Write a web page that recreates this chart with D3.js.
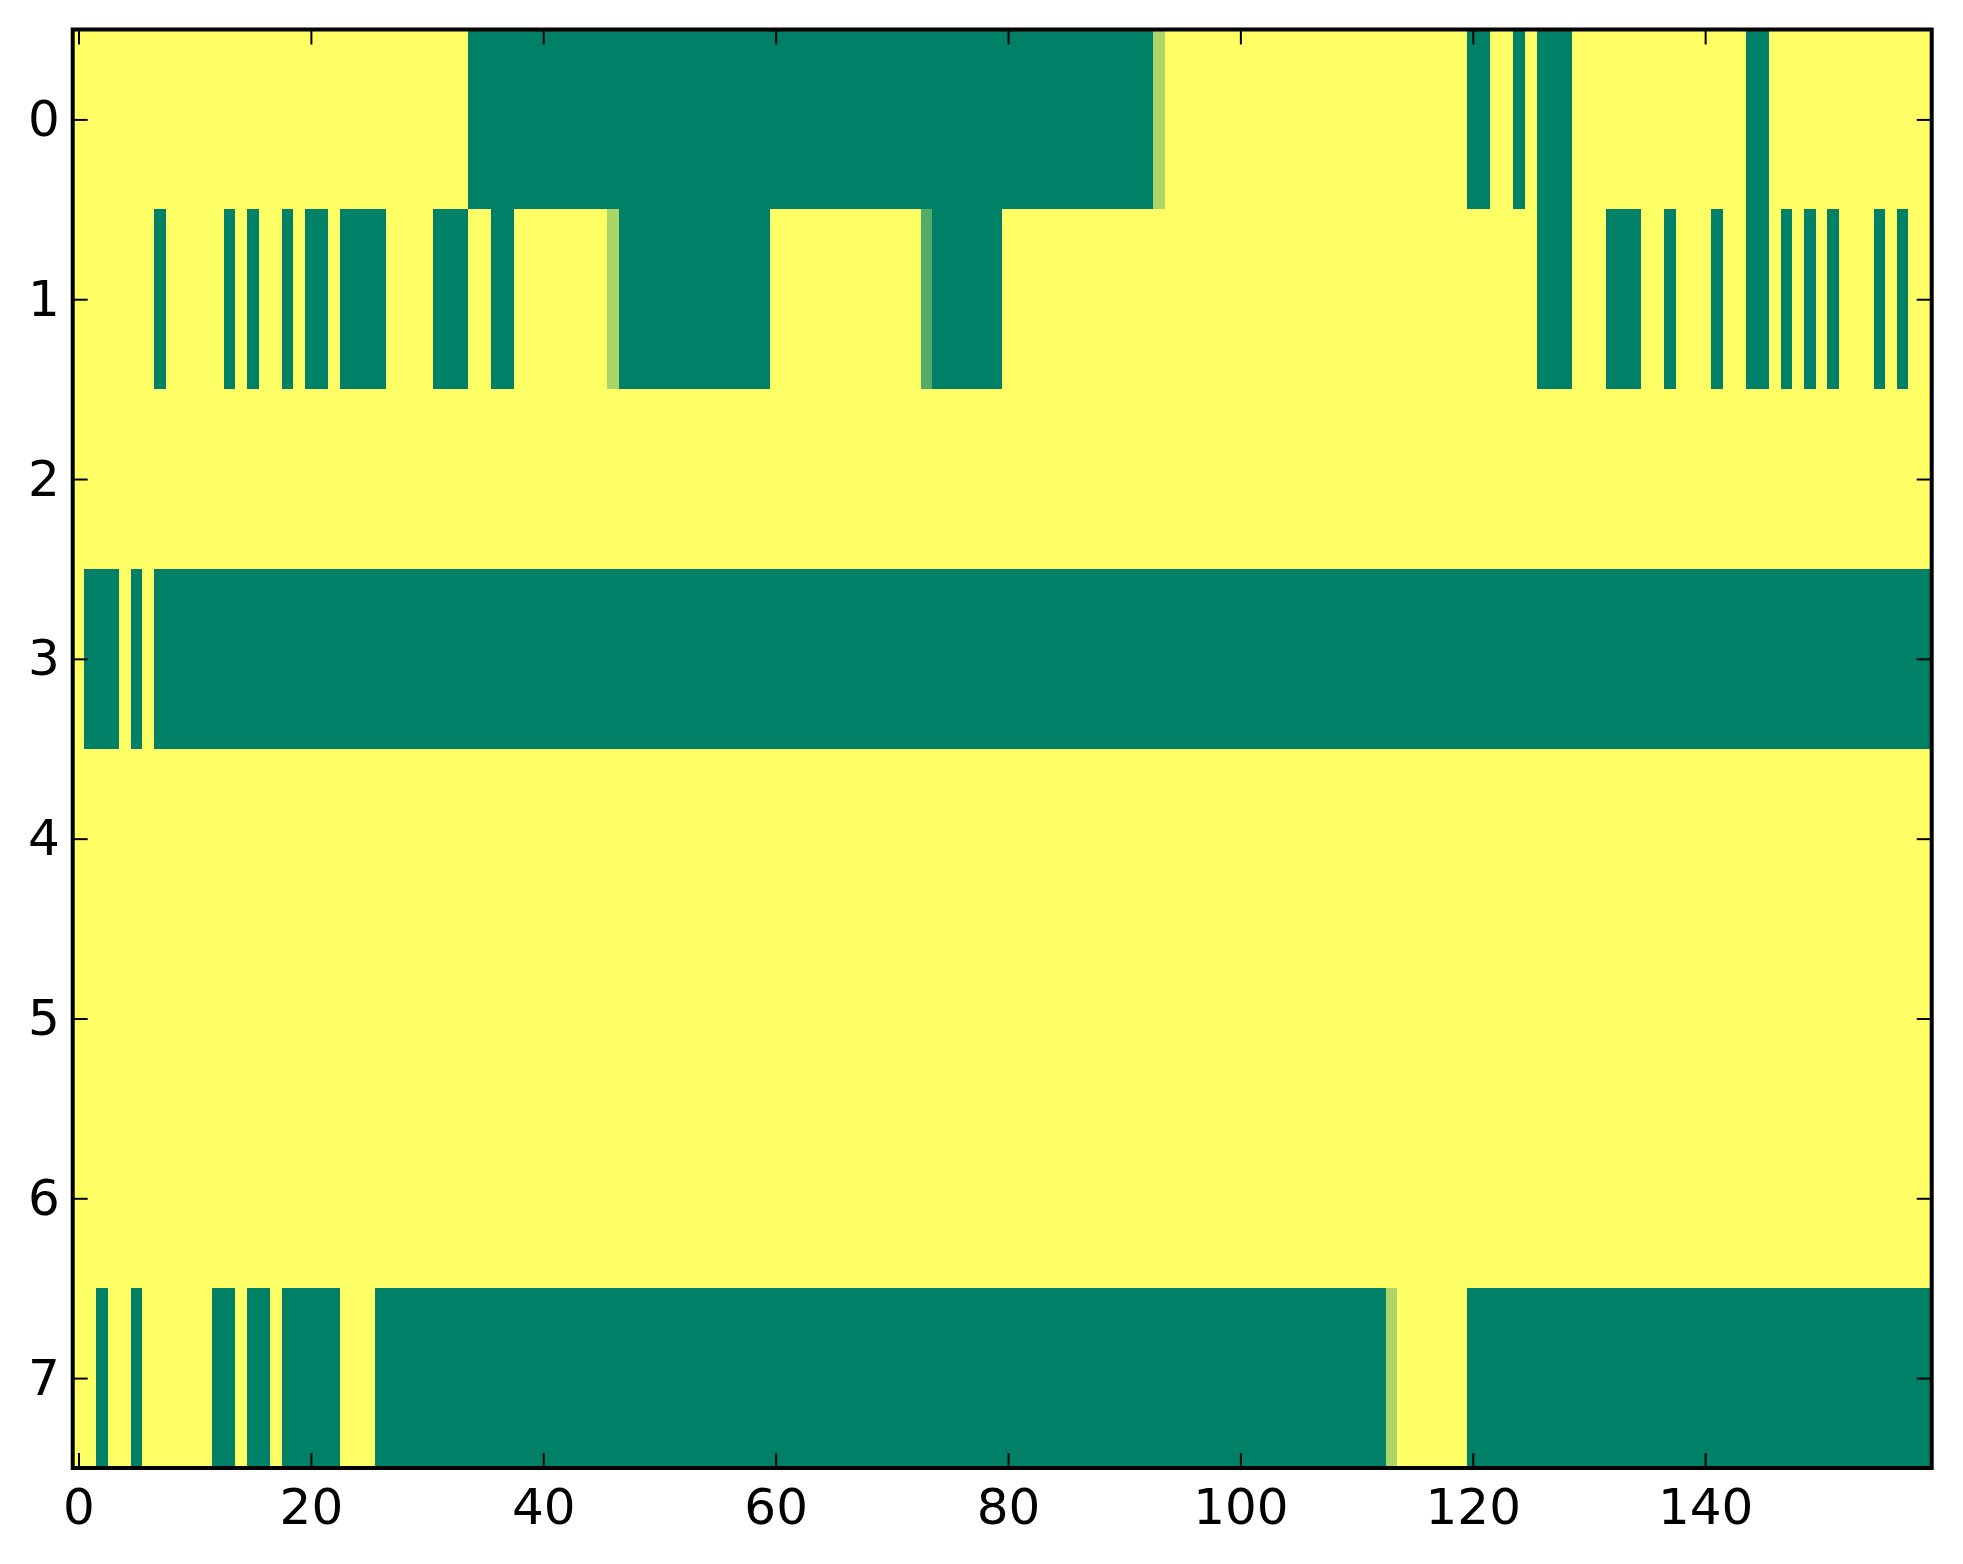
<!DOCTYPE html>
<html>
<head>
<meta charset="utf-8">
<script src="https://cdn.jsdelivr.net/npm/d3@7"></script>
<style>
  html, body { margin: 0; padding: 0; background: #ffffff; }
  #chart { width: 1963px; height: 1564px; }
  .tick text { font-family: "DejaVu Sans", sans-serif; font-size: 50px; fill: #000000; }
</style>
</head>
<body>
<div id="chart"></div>
<script>
const kSvgWidth = 1963;
const kSvgHeight = 1564;
const kLeft = 72.7, kRight = 1931.7, kTop = 29.5, kBottom = 1468;

// one array per heatmap row, 160 cells each (0 = dark green, 1 = yellow)
const row0 = [
  1,1,1,1,1,1,1,1,1,1, 1,1,1,1,1,1,1,1,1,1,
  1,1,1,1,1,1,1,1,1,1, 1,1,1,1,0,0,0,0,0,0,
  0,0,0,0,0,0,0,0,0,0, 0,0,0,0,0,0,0,0,0,0,
  0,0,0,0,0,0,0,0,0,0, 0,0,0,0,0,0,0,0,0,0,
  0,0,0,0,0,0,0,0,0,0, 0,0,0,0.67,1,1,1,1,1,1,
  1,1,1,1,1,1,1,1,1,1, 1,1,1,1,1,1,1,1,1,1,
  0,0,1,1,0,1,0,0,0,1, 1,1,1,1,1,1,1,1,1,1,
  1,1,1,1,0,0,1,1,1,1, 1,1,1,1,1,1,1,1,1,1
];
const row1 = [
  1,1,1,1,1,1,1,0,1,1, 1,1,1,0,1,0,1,1,0,1,
  0,0,1,0,0,0,0,1,1,1, 1,0,0,0,1,1,0,0,1,1,
  1,1,1,1,1,1,0.67,0,0,0, 0,0,0,0,0,0,0,0,0,0,
  1,1,1,1,1,1,1,1,1,1, 1,1,1,0.33,0,0,0,0,0,0,
  1,1,1,1,1,1,1,1,1,1, 1,1,1,1,1,1,1,1,1,1,
  1,1,1,1,1,1,1,1,1,1, 1,1,1,1,1,1,1,1,1,1,
  1,1,1,1,1,1,0,0,0,1, 1,1,0,0,0,1,1,0,1,1,
  1,0,1,1,0,0,1,0,1,0, 1,0,1,1,1,0,1,0,1,1
];
const row2 = [
  1,1,1,1,1,1,1,1,1,1, 1,1,1,1,1,1,1,1,1,1,
  1,1,1,1,1,1,1,1,1,1, 1,1,1,1,1,1,1,1,1,1,
  1,1,1,1,1,1,1,1,1,1, 1,1,1,1,1,1,1,1,1,1,
  1,1,1,1,1,1,1,1,1,1, 1,1,1,1,1,1,1,1,1,1,
  1,1,1,1,1,1,1,1,1,1, 1,1,1,1,1,1,1,1,1,1,
  1,1,1,1,1,1,1,1,1,1, 1,1,1,1,1,1,1,1,1,1,
  1,1,1,1,1,1,1,1,1,1, 1,1,1,1,1,1,1,1,1,1,
  1,1,1,1,1,1,1,1,1,1, 1,1,1,1,1,1,1,1,1,1
];
const row3 = [
  1,0,0,0,1,0,1,0,0,0, 0,0,0,0,0,0,0,0,0,0,
  0,0,0,0,0,0,0,0,0,0, 0,0,0,0,0,0,0,0,0,0,
  0,0,0,0,0,0,0,0,0,0, 0,0,0,0,0,0,0,0,0,0,
  0,0,0,0,0,0,0,0,0,0, 0,0,0,0,0,0,0,0,0,0,
  0,0,0,0,0,0,0,0,0,0, 0,0,0,0,0,0,0,0,0,0,
  0,0,0,0,0,0,0,0,0,0, 0,0,0,0,0,0,0,0,0,0,
  0,0,0,0,0,0,0,0,0,0, 0,0,0,0,0,0,0,0,0,0,
  0,0,0,0,0,0,0,0,0,0, 0,0,0,0,0,0,0,0,0,0
];
const row4 = row2.slice();
const row5 = row2.slice();
const row6 = row2.slice();
const row7 = [
  1,1,0,1,1,0,1,1,1,1, 1,1,0,0,1,0,0,1,0,0,
  0,0,0,1,1,1,0,0,0,0, 0,0,0,0,0,0,0,0,0,0,
  0,0,0,0,0,0,0,0,0,0, 0,0,0,0,0,0,0,0,0,0,
  0,0,0,0,0,0,0,0,0,0, 0,0,0,0,0,0,0,0,0,0,
  0,0,0,0,0,0,0,0,0,0, 0,0,0,0,0,0,0,0,0,0,
  0,0,0,0,0,0,0,0,0,0, 0,0,0,0.67,1,1,1,1,1,1,
  0,0,0,0,0,0,0,0,0,0, 0,0,0,0,0,0,0,0,0,0,
  0,0,0,0,0,0,0,0,0,0, 0,0,0,0,0,0,0,0,0,0
];
const rows = [row0, row1, row2, row3, row4, row5, row6, row7];

const xTicks = [0, 20, 40, 60, 80, 100, 120, 140];
const yTicks = [0, 1, 2, 3, 4, 5, 6, 7];

function createSvg()
{
  return d3.select("#chart")
    .append("svg")
    .attr("width", kSvgWidth)
    .attr("height", kSvgHeight)
    .style("background", "#ffffff");
}

function drawChart(svg)
{
  const nCols = rows[0].length;

  const xScale = d3.scaleLinear()
    .domain([-0.5, nCols - 0.5])
    .range([kLeft, kRight]);

  const yScale = d3.scaleLinear()
    .domain([-0.5, rows.length - 0.5])
    .range([kTop, kBottom]);

  // matplotlib "summer" colormap
  const color = d3.scaleLinear()
    .domain([0, 1])
    .range(["#008066", "#ffff66"]);

  const cells = [];
  rows.forEach((r, ri) => r.forEach((v, ci) => cells.push({ r: ri, c: ci, v: v })));

  svg.append("g")
    .attr("shape-rendering", "crispEdges")
    .selectAll("rect")
    .data(cells)
    .enter()
    .append("rect")
    .attr("x", d => xScale(d.c - 0.5))
    .attr("y", d => yScale(d.r - 0.5))
    .attr("width", d => xScale(d.c + 0.5) - xScale(d.c - 0.5) + 0.6)
    .attr("height", d => yScale(d.r + 0.5) - yScale(d.r - 0.5) + 0.6)
    .attr("fill", d => color(d.v));

  const tickLen = 15;

  const xAxis = d3.axisBottom(xScale).tickValues(xTicks).tickSize(-tickLen).tickPadding(20);
  const xAxisTop = d3.axisTop(xScale).tickValues(xTicks).tickSize(-tickLen).tickFormat("");
  const yAxis = d3.axisLeft(yScale).tickValues(yTicks).tickSize(-tickLen).tickPadding(13);
  const yAxisRight = d3.axisRight(yScale).tickValues(yTicks).tickSize(-tickLen).tickFormat("");

  svg.append("g").attr("transform", `translate(0, ${kBottom})`).call(xAxis);
  svg.append("g").attr("transform", `translate(0, ${kTop})`).call(xAxisTop);
  svg.append("g").attr("transform", `translate(${kLeft}, 0)`).call(yAxis);
  svg.append("g").attr("transform", `translate(${kRight}, 0)`).call(yAxisRight);

  svg.selectAll(".domain").remove();
  svg.selectAll(".tick line").attr("stroke", "#000000").attr("stroke-width", 2);

  svg.append("rect")
    .attr("x", kLeft)
    .attr("y", kTop)
    .attr("width", kRight - kLeft)
    .attr("height", kBottom - kTop)
    .attr("fill", "none")
    .attr("stroke", "#000000")
    .attr("stroke-width", 4);
}

document.addEventListener('DOMContentLoaded', () => {
  const svg = createSvg();
  drawChart(svg);
});
</script>
</body>
</html>
